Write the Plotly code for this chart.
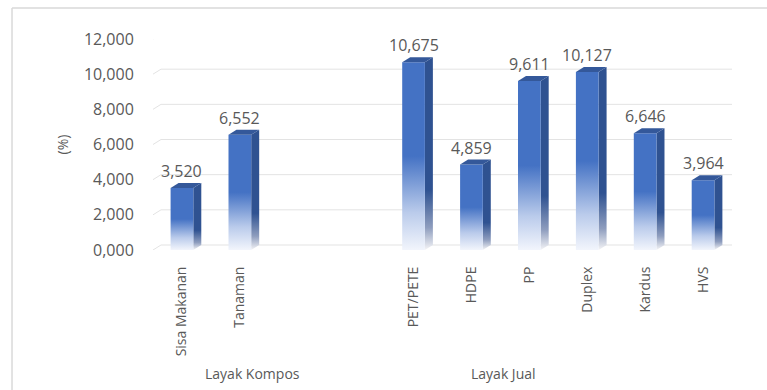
import plotly.graph_objects as go

# ---- data ----
categories = ["Sisa Makanan", "Tanaman", "", "", "PET/PETE", "HDPE", "PP", "Duplex", "Kardus", "HVS"]
values = [3.520, 6.552, None, None, 10.675, 4.859, 9.611, 10.127, 6.646, 3.964]
group_names = ["Layak Kompos", "Layak Jual"]
group_pos = [0.171, 0.606]
y_ticks = [0, 2, 4, 6, 8, 10, 12]

# ---- style ----
FONT = "Open Sans"
TXT = "#595959"
FRONT = "#4472C4"
SIDE = "#2F5291"
TOPC = "#34589A"
HALF_W = 0.196      # half bar width (category units)
DX = 0.138          # 3D depth in x
DY = 0.284          # 3D depth in y

fig = go.Figure()

# gridlines on back wall, with side-wall slant
gx, gy = [], []
for t in y_ticks:
    gx += [-0.5, -0.5 + DX, len(categories) - 0.5 + DX, None]
    gy += [t, t + DY, t + DY, None]
fig.add_trace(go.Scatter(x=gx, y=gy, mode="lines", line=dict(color="#E3E3E3", width=1),
                         hoverinfo="skip", showlegend=False, cliponaxis=False))

for i, v in enumerate(values):
    if v is None:
        continue
    l, r = i - HALF_W, i + HALF_W
    # side face
    fig.add_trace(go.Scatter(
        x=[r, r + DX, r + DX, r, r], y=[0, DY, v + DY, v, 0],
        mode="lines", line=dict(width=0), fill="toself",
        fillgradient=dict(type="vertical", start=0, stop=v,
                          colorscale=[[0, "#F4F4F6"], [0.12, "#8E9DBE"], [0.32, SIDE], [1, SIDE]]),
        hoverinfo="skip", showlegend=False, cliponaxis=False))
    # front face
    fig.add_trace(go.Scatter(
        x=[l, r, r, l, l], y=[0, 0, v, v, 0],
        mode="lines", line=dict(width=0), fill="toself",
        fillgradient=dict(type="vertical", start=0, stop=v,
                          colorscale=[[0, "#F2F5FC"], [0.2, "#BACBEB"], [0.5, FRONT], [1, FRONT]]),
        hoverinfo="skip", showlegend=False, cliponaxis=False))
    # top face
    fig.add_trace(go.Scatter(
        x=[l, l + DX, r + DX, r, l], y=[v, v + DY, v + DY, v, v],
        mode="lines", line=dict(width=0), fill="toself", fillcolor=TOPC,
        hoverinfo="skip", showlegend=False, cliponaxis=False))
    # data label
    fig.add_annotation(x=i, y=v, text=f"{v:.3f}".replace(".", ","), showarrow=False,
                       yanchor="middle", yshift=17, font=dict(family=FONT, size=16, color=TXT))

for name, px in zip(group_names, group_pos):
    fig.add_annotation(x=px, y=-0.585, xref="paper", yref="paper", text=name, showarrow=False,
                       xanchor="center", yanchor="middle", font=dict(family=FONT, size=14, color=TXT))

# chart border (top and left visible)
fig.add_shape(type="line", xref="paper", yref="paper", x0=-0.2435, x1=1.07, y0=1.147, y1=1.147,
              line=dict(color="#D9D9D9", width=1.5))
fig.add_shape(type="line", xref="paper", yref="paper", x0=-0.2435, x1=-0.2435, y0=1.147, y1=-0.7,
              line=dict(color="#D9D9D9", width=1.5))

fig.update_layout(
    width=767, height=390,
    margin=dict(l=153, r=35, t=39, b=140),
    paper_bgcolor="white", plot_bgcolor="white",
    separators=",.",
    showlegend=False,
    font=dict(family=FONT, color=TXT),
    xaxis=dict(range=[-0.5, len(categories) - 0.5], tickmode="array",
               tickvals=list(range(len(categories))), ticktext=categories,
               tickangle=-90, showgrid=False, zeroline=False, showline=False,
               ticks="outside", ticklen=10, tickcolor="rgba(0,0,0,0)",
               tickfont=dict(family=FONT, size=14, color=TXT)),
    yaxis=dict(range=[0, 12], tickmode="array", tickvals=y_ticks, tickformat=".3f",
               showgrid=False, zeroline=False, showline=False,
               ticks="outside", ticklen=15, tickcolor="rgba(0,0,0,0)",
               tickfont=dict(family=FONT, size=16, color=TXT),
               title=dict(text="(%)", font=dict(family=FONT, size=14, color=TXT), standoff=12)),
)

fig.write_html("out.html")
